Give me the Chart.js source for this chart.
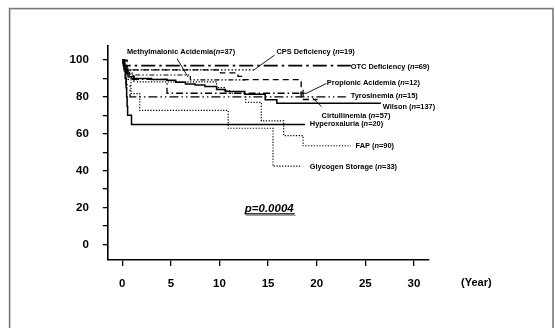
<!DOCTYPE html>
<html><head><meta charset="utf-8">
<script src="https://cdn.jsdelivr.net/npm/chart.js@4.4.0/dist/chart.umd.min.js"></script>
<style>html,body{margin:0;padding:0;background:#fff;overflow:hidden}canvas{display:block}</style>
</head><body><canvas id="c" width="555" height="328"></canvas>
<script>
// ---- data (time in years, survival %) ----
const xTicks = [0, 5, 10, 15, 20, 25, 30];
const yTicks = [0, 10, 20, 30, 40, 50, 60, 70, 80, 90, 100];
const yLabelled = [0, 20, 40, 60, 80, 100];

const otc = [[0,100],[0.1,98.5],[0.2,97],[23.5,97]];
const cps = [[0,100],[0.3,94.7],[13.5,94.7]];
const citrullinemia = [[0,100],[0.1,98.2],[0.3,96.5],[0.5,94.7],[10.1,93.0],[11.9,91.2],[12.3,89.4],[18.4,78.6],[20.1,78.6]];
const methylmalonic = [[0,100],[0.15,97.3],[0.35,94.6],[0.8,91.9],[7.0,89.2],[12.7,89.2]];
const propionic = [[0,100],[0.5,89.5],[4.6,82],[18.6,82]];
const tyrosinemia = [[0,100],[0.2,93.3],[0.4,86.7],[0.8,80],[23.0,80]];
const wilson = [[0,100],[0.1,97],[0.2,95],[0.4,93],[0.7,91],[1.2,90],[3,89.5],[4.6,89],[5.5,88],[6.5,87],[7.5,86.5],[8.5,85.7],[9.7,84],[10.6,83],[12.6,81.5],[14.7,78.5],[15.9,76.5],[26.6,76.5]];
const hyperoxaluria = [[0,100],[0.2,95],[0.3,90],[0.4,85],[0.45,80],[0.5,75],[0.55,70],[0.95,65],[18.8,65]];
const fap = [[0,100],[0.3,96],[0.6,93],[1.0,90],[1.5,88.2],[9.7,85],[10.5,83.5],[11,82],[12.7,77],[14.3,67],[16.6,59],[18.6,53.5],[23.5,53.5]];
const glycogen = [[0,100],[0.2,97],[0.4,93.9],[0.6,90.9],[0.9,81.8],[1.8,72.7],[10.9,63],[15.5,42.4],[18.4,42.4]];
const censored = [[1.2,90],[18.6,82]];

const labelTexts = ['Methylmalonic Acidemia(n=37)','CPS Deficiency (n=19)','OTC Deficiency (n=69)','Propionic Acidemia (n=12)','Tyrosinemia (n=15)','Wilson (n=137)','Cirtullinemia (n=57)','Hyperoxaluria (n=20)','FAP (n=90)','Glycogen Storage (n=33)'];
const pText = 'p=0.0004';
const unitText = '(Year)';

// ---- layout of annotations (data coordinates) ----
const labelPos = [[0.48,104.5],[15.86,104.5],[23.5,96.4],[21.04,87.4],[23.5,80.6],[26.8,74.7],[20.5,69.8],[19.29,65.3],[24.0,53.5],[19.29,42.1]];
const leaders = [[5.64,100.7,6.76,90.8],[13.46,94.4,15.67,102.7],[21.0,87.3,18.95,82.0],[20.5,74.7,19.46,80.1]];

const FONT = '"Liberation Sans", Arial, sans-serif';
const pts = a => a.map(([x,y]) => ({x, y}));
function ds(arr, dash, w) {
  return {type:'line', data: pts(arr), borderColor:'#000', borderWidth: w || 1.3, borderDash: dash,
    stepped: true, pointRadius: 0, fill: false, tension: 0};
}

const annot = {
  id: 'annot',
  beforeDraw(chart) {
    const c = chart.ctx;
    c.save();
    c.fillStyle = '#fff'; c.fillRect(0,0,chart.width,chart.height);
    c.strokeStyle = '#777'; c.lineWidth = 1.6;
    c.strokeRect(9.6, 8.6, 543.4, 400);
    c.restore();
  },
  afterDraw(chart) {
    const c = chart.ctx, xs = chart.scales.x, ys = chart.scales.y;
    const X = v => xs.getPixelForValue(v), Y = v => ys.getPixelForValue(v);
    c.save();
    c.fillStyle = '#000'; c.strokeStyle = '#000';
    c.textBaseline = 'middle'; c.textAlign = 'left';
    labelTexts.forEach((t, i) => {
      let x = X(labelPos[i][0]); const y = Y(labelPos[i][1]);
      const k = t.indexOf('n=');
      const parts = [[t.slice(0,k),'bold'],['n','italic bold'],[t.slice(k+1),'bold']];
      parts.forEach(([s, st]) => {
        c.font = st + ' 7.4px ' + FONT;
        c.fillText(s, x, y);
        x += c.measureText(s).width;
      });
    });
    c.lineWidth = 0.9;
    leaders.forEach(l => {
      c.beginPath(); c.moveTo(X(l[0]), Y(l[1])); c.lineTo(X(l[2]), Y(l[3])); c.stroke();
    });
    // p value
    c.font = 'italic bold 11.5px ' + FONT;
    const px = X(12.6), py = Y(19.5);
    c.fillText(pText, px, py);
    const w = c.measureText(pText).width;
    c.lineWidth = 1.4;
    c.beginPath(); c.moveTo(px, py + 5.5); c.lineTo(px + w + 1, py + 5.5); c.stroke();
    c.strokeStyle = '#999'; c.lineWidth = 1;
    c.beginPath(); c.moveTo(px + 1, py + 7); c.lineTo(px + w + 2, py + 7); c.stroke();
    // unit
    c.font = 'bold 11px ' + FONT;
    c.fillStyle = '#000';
    c.fillText(unitText, 461, xs.bottom - xs.height + 0 + 23.3);
    c.restore();
  }
};

new Chart(document.getElementById('c'), {
  data: {
    datasets: [
      ds(otc, [14,4,2.5,4], 1.6),
      ds(cps, [1.5,2], 1.3),
      ds(citrullinemia, [6,4], 1.3),
      ds(methylmalonic, [5,2,1.5,2,1.5,2], 1.2),
      ds(propionic, [7,3,1.5,3], 1.3),
      ds(tyrosinemia, [9,3,1.5,3,1.5,3], 1.3),
      ds(wilson, [], 1.5),
      ds(hyperoxaluria, [], 1.5),
      ds(fap, [1.2,1.6], 1.2),
      ds(glycogen, [1.2,1.6], 1.2),
      {type:'scatter', data: pts(censored), pointStyle:'cross', pointRadius:3.5, borderColor:'#000', borderWidth:1.2, backgroundColor:'#000'}
    ]
  },
  options: {
    responsive: false, devicePixelRatio: 1, animation: false,
    layout: {padding: {left: 0, top: 45.7, right: 126, bottom: 0}},
    plugins: {legend: {display: false}, tooltip: {enabled: false}},
    scales: {
      x: {
        type: 'linear', min: -1.53, max: 31.55,
        afterBuildTicks: s => { s.ticks = xTicks.map(v => ({value: v})); },
        afterFit: s => { s.height = 68; },
        grid: {display: true, drawOnChartArea: false, drawTicks: true, tickLength: 6, color: '#000', lineWidth: 1.3},
        border: {display: true, color: '#000', width: 1.6},
        ticks: {color: '#000', font: {family: FONT, size: 11.5, weight: 'bold'}, padding: 11, maxRotation: 0, autoSkip: false}
      },
      y: {
        type: 'linear', min: -8.5, max: 107.8,
        afterBuildTicks: s => { s.ticks = yTicks.map(v => ({value: v})); },
        afterFit: s => { s.width = 107.4; },
        grid: {display: true, drawOnChartArea: false, drawTicks: true, tickLength: 4.6, color: '#000', lineWidth: 1.3},
        border: {display: true, color: '#000', width: 1.6},
        ticks: {color: '#000', font: {family: FONT, size: 11.5, weight: 'bold'}, padding: 14, autoSkip: false,
          callback: v => yLabelled.includes(v) ? String(v) : ''}
      }
    }
  },
  plugins: [annot]
});
</script>
</body></html>
